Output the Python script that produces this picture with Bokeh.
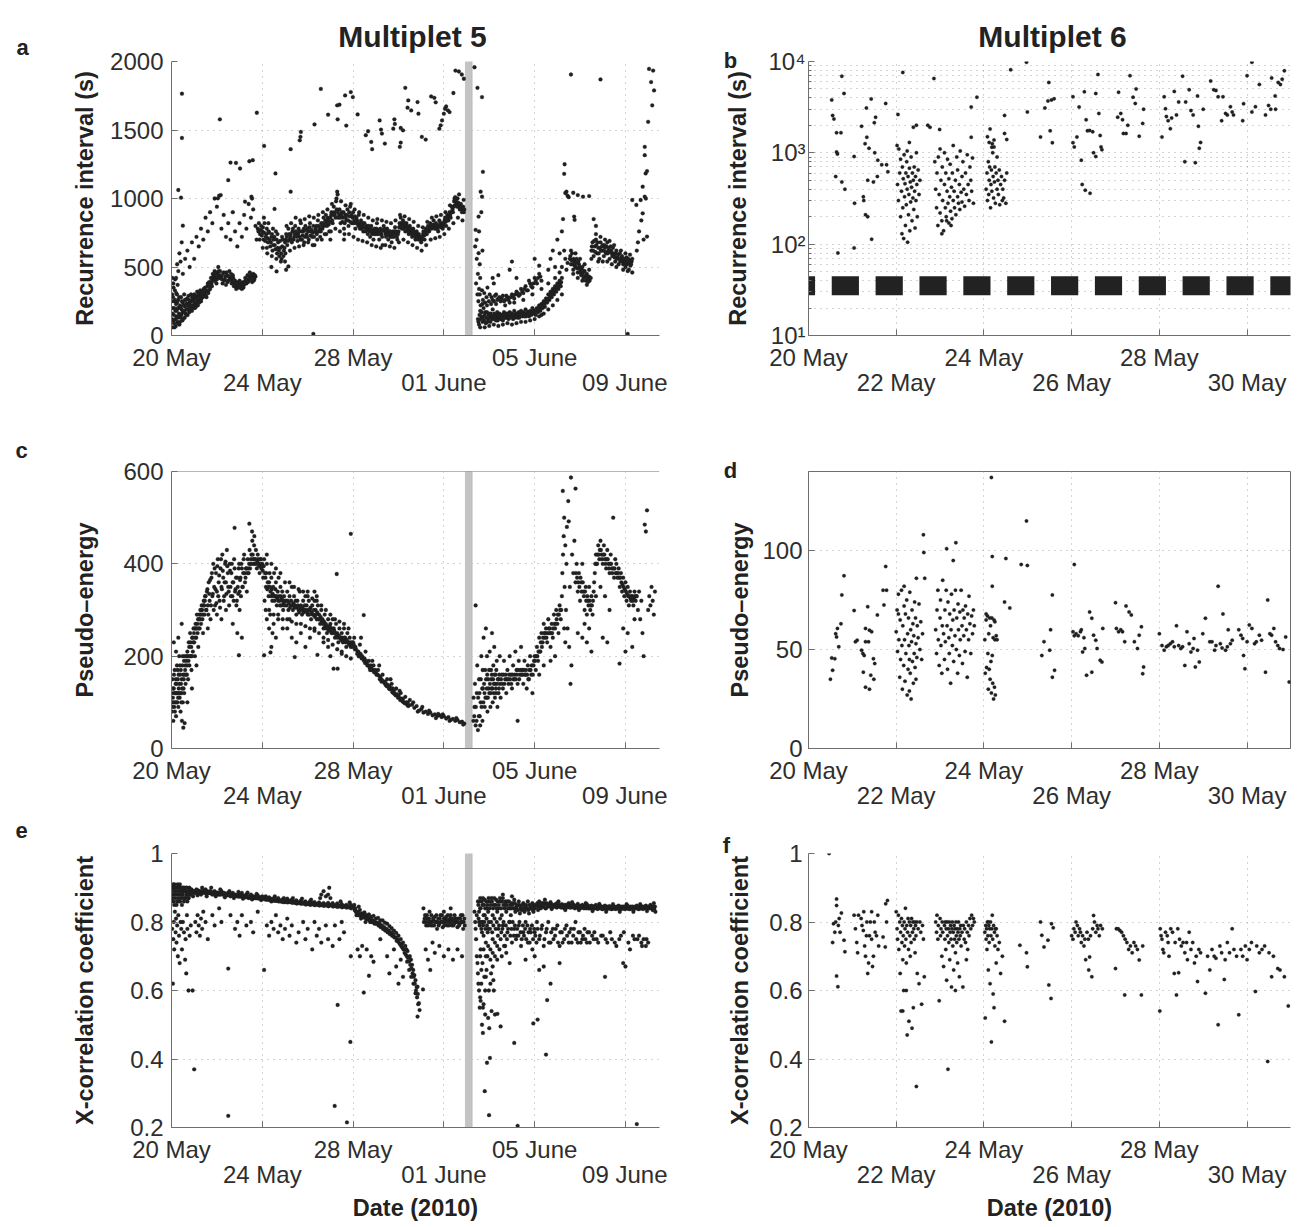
from bokeh.plotting import figure
from bokeh.models import FixedTicker, LinearAxis, BoxAnnotation, Span, Range1d, GridBox
from bokeh.core.properties import value
from bokeh.embed import file_html
from bokeh.resources import INLINE

# ---------------- data: x = days after 20 May 2010 00:00 ----------------
m5_ticks = [0, 4, 8, 12, 16, 20]
m5_tick_labels = ["20 May", "24 May", "28 May", "01 June", "05 June", "09 June"]
m6_ticks = [0, 2, 4, 6, 8, 10]
m6_tick_labels = ["20 May", "22 May", "24 May", "26 May", "28 May", "30 May"]
m5_gap = [12.95, 13.25]

# Multiplet 5 - recurrence interval (s)
a_low = [(0.02,120),(0.03,300),(0.05,60),(0.06,200),(0.08,380),(0.1,150),(0.11,90),(0.13,250),(0.15,330),(0.17,180),(0.19,70),(0.2,230),(0.22,140),(0.24,300),(0.26,100),(0.28,200),(0.3,260),(0.33,160),(0.35,80),(0.37,220),(0.4,130),(0.42,280),(0.45,190),(0.48,110),(0.5,240),(0.53,170),(0.56,300),(0.58,130),(0.6,210),(0.63,260),(0.66,150),(0.7,230),(0.72,190),(0.75,290),(0.78,170),(0.8,240),(0.83,200),(0.86,300),(0.9,180),(0.93,260),(0.96,220),(1.0,300),(1.03,200),(1.06,270),(1.1,240),(1.13,320),(1.16,220),(1.2,290),(1.24,260),(1.27,330),(1.3,250),(1.34,300),(1.38,280),(1.42,340),(1.46,300),(1.5,320),(1.54,280),(1.58,360),(1.62,310),(1.66,390),(1.7,340),(1.74,420),(1.78,360),(1.82,450),(1.86,400),(1.9,470),(1.94,420),(1.98,380),(2.02,450),(2.06,500),(2.1,420),(2.14,470),(0.04,420),(0.09,350),(0.16,410),(0.27,370),
(2.2,430),(2.25,380),(2.3,460),(2.35,410),(2.4,370),(2.45,440),(2.5,400),(2.55,470),(2.6,420),(2.65,380),(2.7,440),(2.75,360),(2.8,400),(2.85,340),(2.9,380),(2.95,350),(3.0,400),(3.05,360),(3.1,340),(3.15,390),(3.2,370),(3.25,420),(3.3,380),(3.35,440),(3.4,400),(3.45,460),(3.5,420),(3.55,390),(3.6,450),(3.65,410),(3.7,430)]
a_low_fill = [(0.01,250),(0.04,160),(0.07,280),(0.09,110),(0.12,200),(0.14,60),(0.16,260),(0.18,120),(0.21,310),(0.23,180),(0.25,240),(0.27,130),(0.29,90),(0.31,200),(0.34,280),(0.36,150),(0.38,100),(0.41,210),(0.44,150),(0.46,250),(0.49,170),(0.51,120),(0.54,220),(0.57,180),(0.59,260),(0.62,160),(0.65,230),(0.67,190),(0.69,270),(0.71,150),(0.74,220),(0.77,260),(0.79,200),(0.82,180),(0.85,250),(0.88,220),(0.91,280),(0.94,200),(0.98,250),(1.01,230),(1.04,290),(1.08,210),(1.11,280),(1.15,260),(1.18,300),(1.22,240),(1.25,310),(1.29,280),(1.32,270),(1.36,320),(1.4,290),(1.44,310),(1.48,350),(1.52,290),(1.56,330),(1.6,380),(1.64,330),(1.68,360),(1.72,390),(1.76,380),(1.8,410),(1.84,430),(1.88,440),(1.92,400),(1.96,460),(2.0,410),(2.04,430),(2.08,470),(2.12,440),(2.16,420),
(2.22,410),(2.27,450),(2.32,400),(2.37,430),(2.42,460),(2.47,390),(2.52,430),(2.57,410),(2.62,450),(2.67,400),(2.72,420),(2.77,380),(2.82,360),(2.87,390),(2.92,360),(2.97,380),(3.02,350),(3.07,380),(3.12,360),(3.17,350),(3.22,390),(3.27,400),(3.32,410),(3.37,390),(3.42,430),(3.47,410),(3.52,440),(3.57,430),(3.62,400),(3.67,440)]
a_double = [(0.2,420),(0.25,520),(0.3,470),(0.35,600),(0.4,540),(0.45,680),(0.5,450),(0.6,560),(0.7,620),(0.8,500),(0.9,680),(1.0,560),(1.1,720),(1.2,650),(1.3,780),(1.4,700),(1.5,860),(1.6,760),(1.7,900),(1.8,820),(1.9,1000),(2.0,940),(2.1,1020),(2.2,780),(2.3,880),(2.4,720),(2.5,820),(2.6,700),(2.7,900),(2.8,760),(2.9,650),(3.0,820),(3.1,720),(3.2,880),(3.3,780),(3.4,960),(3.5,860),(3.55,1000),(3.6,920),(3.7,800),(3.75,700),
(2.6,1262),(2.84,1260),(3.02,1219),(3.43,1272),(3.58,1280),(2.5,1134),(2.04,1001),(2.17,1025),(3.24,977),(3.52,1013),(5.25,1050),(4.54,924),(5.15,504),(4.63,468)]
a_mid = [(3.8,780),(3.85,820),(3.9,740),(3.95,800),(4.0,760),(4.05,700),(4.1,820),(4.15,720),(4.2,780),(4.25,680),(4.3,750),(4.35,650),(4.4,720),(4.45,620),(4.5,700),(4.55,660),(4.6,760),(4.65,600),(4.7,680),(4.75,580),(4.8,640),(4.85,560),(4.9,700),(4.95,620),(5.0,680),(5.05,740),(5.1,660),(5.15,780),(5.2,700),(5.25,740),(5.3,680),(5.35,780),(5.4,720),(5.45,800),(5.5,740),(4.4,500),(5.0,540),(5.05,480),(4.2,640),
(5.55,690),(5.6,780),(5.65,720),(5.7,820),(5.75,700),(5.8,760),(5.85,680),(5.9,800),(5.95,740),(6.0,780),(6.05,700),(6.1,820),(6.15,760),(6.2,720),(6.25,800),(6.3,660),(6.35,780),(6.4,740),(6.45,840),(6.5,760),(6.55,720),(6.6,820),(6.65,780),(6.7,860),(6.75,740),(6.8,880),(6.85,800),(6.9,840),(6.95,760),
(7.0,860),(7.05,900),(7.1,820),(7.15,940),(7.2,880),(7.25,980),(7.3,1050),(7.35,860),(7.4,920),(7.45,820),(7.5,900),(7.55,860),(7.6,780),(7.65,880),(7.7,840),(7.75,920),(7.8,800),(7.85,870),(7.9,960),(7.95,820),(8.0,900),(8.05,840),(8.1,780),(8.15,860),(8.2,820),(8.25,880),(8.3,780),(8.35,840),(8.4,800),(8.45,760),(7.32,1030),(7.0,700),(7.6,700),
(8.5,820),(8.55,760),(8.6,800),(8.65,740),(8.7,780),(8.75,720),(8.8,800),(8.85,760),(8.9,700),(8.95,780),(9.0,740),(9.05,820),(9.1,760),(9.15,700),(9.2,780),(9.25,740),(9.3,660),(9.35,800),(9.4,760),(9.45,720),(9.5,780),(9.55,700),(9.6,760),(9.65,720),(9.7,680),(9.75,760),(9.8,720),(9.85,790),(9.9,740),(9.95,700),
(10.0,760),(10.05,820),(10.1,860),(10.15,780),(10.2,840),(10.25,800),(10.3,760),(10.35,820),(10.4,780),(10.45,740),(10.5,800),(10.55,760),(10.6,720),(10.65,780),(10.7,740),(10.75,700),(10.8,760),(10.85,720),(10.9,740),(10.95,700),(11.0,680),(11.05,720),(11.1,760),(11.15,700),(11.2,780),(11.25,740),(11.3,800),(11.35,760),(11.4,820),(11.45,780),(11.5,800),(11.55,840),(11.6,780),(11.65,820),(11.7,800),(11.75,760),(11.8,840),(11.85,800),(11.9,820),(11.95,780),
(12.0,820),(12.05,860),(12.1,800),(12.15,880),(12.2,840),(12.25,900),(12.3,860),(12.35,940),(12.4,900),(12.45,980),(12.5,1010),(12.55,960),(12.6,1000),(12.65,940),(12.7,920),(12.75,960),(12.8,900),(12.85,940),(12.9,920)]
a_mid_fill = [(3.83,760),(3.88,700),(3.93,770),(3.98,730),(4.03,790),(4.08,750),(4.13,690),(4.18,740),(4.23,710),(4.28,760),(4.33,700),(4.38,680),(4.43,740),(4.48,660),(4.53,720),(4.58,630),(4.63,700),(4.68,640),(4.73,620),(4.78,690),(4.83,600),(4.88,650),(4.93,580),(4.98,640),(5.03,700),(5.08,720),(5.13,690),(5.18,740),(5.23,720),(5.28,700),(5.33,760),(5.38,700),(5.43,740),(5.48,760),(5.53,720),
(5.58,740),(5.63,760),(5.68,700),(5.73,760),(5.78,730),(5.83,780),(5.88,720),(5.93,770),(5.98,720),(6.03,760),(6.08,790),(6.13,730),(6.18,770),(6.23,750),(6.28,720),(6.33,760),(6.38,800),(6.43,760),(6.48,800),(6.53,780),(6.58,760),(6.63,800),(6.68,820),(6.73,800),(6.78,840),(6.83,820),(6.88,860),(6.93,810),(6.98,830),
(7.03,880),(7.08,840),(7.13,880),(7.18,900),(7.23,860),(7.28,920),(7.33,900),(7.38,880),(7.43,860),(7.48,880),(7.53,830),(7.58,900),(7.63,820),(7.68,860),(7.73,880),(7.78,840),(7.83,900),(7.88,830),(7.93,880),(7.98,860),(8.03,820),(8.08,870),(8.13,820),(8.18,840),(8.23,800),(8.28,820),(8.33,800),(8.38,780),(8.43,820),(8.48,790),
(8.53,790),(8.58,780),(8.63,770),(8.68,800),(8.73,760),(8.78,780),(8.83,740),(8.88,770),(8.93,740),(8.98,760),(9.03,780),(9.08,740),(9.13,770),(9.18,740),(9.23,760),(9.28,720),(9.33,770),(9.38,780),(9.43,740),(9.48,760),(9.53,740),(9.58,730),(9.63,760),(9.68,740),(9.73,720),(9.78,740),(9.83,760),(9.88,760),(9.93,720),(9.98,740),
(10.03,790),(10.08,800),(10.13,820),(10.18,810),(10.23,780),(10.28,820),(10.33,790),(10.38,800),(10.43,760),(10.48,770),(10.53,780),(10.58,740),(10.63,750),(10.68,760),(10.73,720),(10.78,740),(10.83,740),(10.88,700),(10.93,720),(10.98,720),(11.03,700),(11.08,740),(11.13,730),(11.18,740),(11.23,760),(11.28,770),(11.33,780),(11.38,790),(11.43,800),(11.48,790),(11.53,810),(11.58,800),(11.63,800),(11.68,780),(11.73,780),(11.78,800),(11.83,820),(11.88,790),(11.93,800),(11.98,800),
(12.03,840),(12.08,830),(12.13,840),(12.18,860),(12.23,870),(12.28,880),(12.33,900),(12.38,920),(12.43,940),(12.48,950),(12.53,980),(12.58,940),(12.63,970),(12.68,960),(12.73,940),(12.78,930),(12.83,920),(12.88,900)]
a_mid_spread = [(4.02,640),(4.07,860),(4.22,600),(4.27,820),(4.42,580),(4.47,780),(4.62,560),(4.67,740),(4.82,540),(4.87,720),(5.02,600),(5.07,800),(5.22,620),(5.27,820),(5.42,640),(5.47,860),(5.62,650),(5.67,840),(5.82,660),(5.87,850),(6.02,680),(6.07,870),(6.22,660),(6.27,860),(6.42,700),(6.47,880),(6.62,700),(6.67,900),(6.82,740),(6.87,920),(7.02,760),(7.07,960),(7.22,780),(7.27,1000),(7.42,760),(7.47,980),(7.62,740),(7.67,950),(7.82,740),(7.87,940),(8.02,720),(8.07,920),(8.22,700),(8.27,900),(8.42,690),(8.47,880),(8.62,680),(8.67,860),(8.82,660),(8.87,840),(9.02,650),(9.07,850),(9.22,640),(9.27,840),(9.42,660),(9.47,830),(9.62,650),(9.67,820),(9.82,640),(9.87,840),(10.02,680),(10.07,880),(10.22,700),(10.27,870),(10.42,680),(10.47,850),(10.62,660),(10.67,830),(10.82,640),(10.87,800),(11.02,620),(11.07,790),(11.22,660),(11.27,830),(11.42,700),(11.47,860),(11.62,710),(11.67,870),(11.82,720),(11.87,880),(12.02,740),(12.07,900),(12.22,780),(12.27,950),(12.42,820),(12.47,1000),(12.62,860),(12.67,1030),(12.82,840),(12.87,990)]
a_high = [(0.46,1765),(0.46,1442),(0.3,1062),(0.42,1006),(0.5,802),(2.13,1578),(3.76,1626),(4.08,1384),(4.58,1183),(5.25,1360),(5.65,1425),(5.68,1450),(5.7,1486),(6.3,1541),(6.58,1800),(6.9,1612),(7.3,1680),(7.4,1685),(7.32,1578),(7.7,1532),(7.65,1752),(7.9,1777),(7.99,1740),(8.2,1614),(8.56,1462),(8.66,1491),(8.8,1413),(8.84,1360),(9.17,1570),(9.23,1503),(9.27,1474),(9.4,1401),(9.82,1578),(9.84,1544),(9.77,1510),(10.06,1377),(10.1,1408),(10.3,1808),(10.43,1716),(10.4,1663),(10.1,1515),(10.2,1498),(10.56,1643),(10.84,1704),(10.88,1619),(11.03,1450),(11.2,1430),(11.44,1745),(11.58,1735),(11.64,1702),(11.8,1510),(11.86,1534),(11.92,1570),(12.0,1619),(12.05,1655),(12.1,1672),(12.18,1643),(12.25,1631),(12.42,1770),(12.51,1934),(12.66,1927),(12.79,1905),(12.88,1874),(6.25,12),(20.1,12)]
a_after = [(13.35,1958),(13.48,1808),(13.68,1740),(13.72,1195),(13.62,1050),(13.68,1013),(13.53,868),(13.4,771),(13.44,698),(13.53,601),(13.58,520),(13.45,560),(13.5,450),(13.42,380),(13.55,340),(13.48,300),(13.6,420),(13.38,650),(13.65,900),(13.55,760),(13.7,620),
(13.5,120),(13.55,80),(13.6,180),(13.65,140),(13.7,100),(13.75,200),(13.8,150),(13.85,90),(13.9,170),(13.95,120),(14.0,160),(14.05,100),(14.1,140),(14.15,190),(14.2,120),(14.25,150),(14.3,110),(14.35,170),(14.4,130),(14.45,160),(14.5,120),(14.55,150),(14.6,110),(14.65,170),(14.7,130),(14.75,160),(14.8,140),(14.85,120),(14.9,170),(14.95,140),(15.0,160),(15.05,120),(15.1,180),(15.15,140),(15.2,160),(15.25,130),(15.3,170),(15.35,140),(15.4,180),(15.45,150),(15.5,170),(15.55,140),(15.6,190),(15.65,150),(15.7,170),(15.75,140),(15.8,180),(15.85,150),(15.9,200),(15.95,160),(16.0,180),(16.05,150),(16.1,200),(16.15,170),(16.2,220),(16.25,180),(16.3,230),(16.35,200),(16.4,250),(16.45,210),(16.5,270),(16.55,240),(16.6,300),(16.65,260),(16.7,320),(16.75,280),(16.8,340),(16.85,300),(16.9,360),(16.95,320),(17.0,380),(17.05,340),(17.1,400),(17.15,360),(17.2,420),
(13.52,250),(13.58,300),(13.62,220),(13.68,330),(13.72,260),(13.78,310),(13.82,240),(13.88,280),(13.92,350),(13.98,250),(14.02,300),(14.08,230),
(14.1,280),(14.2,250),(14.3,300),(14.4,270),(14.5,250),(14.6,290),(14.7,260),(14.8,280),(14.9,240),(15.0,300),(15.1,270),(15.2,320),(15.3,290),(15.4,340),(15.5,310),(15.6,360),(15.7,330),(15.8,380),(15.9,350),(16.0,420),(16.1,380),(16.2,450),(16.3,400),(14.15,420),(14.4,440),(14.2,380),(15.0,540),(15.2,420),(16.0,560),(16.2,510),(14.9,480),(15.75,400),(16.3,150),
(16.6,480),(16.7,560),(16.8,620),(16.9,500),(17.0,700),(17.1,600),(17.2,760),(17.25,850),(17.3,1180),(17.32,1250),(17.35,1040),(17.4,1050),(17.45,1020),(17.5,1010),(17.2,500),(17.3,620),(17.35,560),(17.4,480),(17.45,530),
(17.55,560),(17.6,520),(17.65,600),(17.7,480),(17.75,540),(17.8,500),(17.85,560),(17.9,460),(17.95,520),(18.0,480),(18.05,440),(18.1,500),(18.15,420),(18.2,470),(18.25,400),(18.3,450),(18.35,390),(18.4,430),(17.7,1042),(17.9,1025),(18.13,1013),(18.4,1018),(17.74,868),(17.76,844),(17.6,1905),(18.9,1869),
(18.5,620),(18.55,680),(18.6,580),(18.65,650),(18.7,700),(18.75,600),(18.8,640),(18.85,560),(18.9,680),(18.95,620),(19.0,660),(19.05,580),(19.1,640),(19.15,600),(19.2,680),(19.25,620),(19.3,560),(19.35,650),(19.4,600),(19.45,640),(18.6,850),(18.7,800),
(19.5,590),(19.55,540),(19.6,620),(19.65,570),(19.7,520),(19.75,600),(19.8,550),(19.85,580),(19.9,520),(19.95,560),(20.0,500),(20.05,570),(20.1,530),(20.15,480),(20.2,550),(20.25,520),(20.3,560),
(20.3,989),(20.48,953),(20.5,620),(20.55,680),(20.6,760),(20.67,989),(20.7,840),(20.76,892),(20.76,1086),(20.8,700),(20.85,1013),(20.85,1316),(20.85,1377),(20.89,1183),(20.95,722),(21.04,1946),(21.13,1850),(21.18,1680),(21.22,1934),(21.26,1789),(20.9,1000),(20.95,1200),(21.0,1560)]
a_after_fill = [(13.52,100),(13.57,150),(13.62,120),(13.67,170),(13.72,130),(13.77,110),(13.82,170),(13.87,130),(13.92,100),(13.97,150),(14.02,130),(14.07,160),(14.12,120),(14.17,140),(14.22,160),(14.27,130),(14.32,150),(14.37,110),(14.42,150),(14.47,130),(14.52,140),(14.57,120),(14.62,150),(14.67,130),(14.72,150),(14.77,130),(14.82,160),(14.87,140),(14.92,130),(14.97,160),(15.02,140),(15.07,150),(15.12,130),(15.17,160),(15.22,140),(15.27,150),(15.32,130),(15.37,160),(15.42,150),(15.47,140),(15.52,160),(15.57,150),(15.62,140),(15.67,170),(15.72,150),(15.77,170),(15.82,160),(15.87,170),(15.92,170),(15.97,180),(16.02,170),(16.07,190),(16.12,180),(16.17,200),(16.22,190),(16.27,210),(16.32,210),(16.37,230),(16.42,230),(16.47,240),(16.52,250),(16.57,260),(16.62,270),(16.67,290),(16.72,300),(16.77,310),(16.82,320),(16.87,330),(16.92,340),(16.97,350),(17.02,360),(17.07,370),(17.12,380),(17.17,390),
(14.15,260),(14.25,290),(14.35,260),(14.45,280),(14.55,270),(14.65,250),(14.75,290),(14.85,260),(14.95,280),(15.05,290),(15.15,300),(15.25,310),(15.35,300),(15.45,320),(15.55,340),(15.65,330),(15.85,360),(15.95,380),(16.05,400),(16.15,420),(16.25,430),
(17.57,580),(17.62,550),(17.67,520),(17.72,560),(17.77,510),(17.82,530),(17.87,490),(17.92,540),(17.97,500),(18.02,460),(18.07,480),(18.12,450),(18.17,470),(18.22,430),(18.27,440),(18.32,420),(18.37,410),(18.42,400),(18.47,420),
(18.52,650),(18.57,620),(18.62,690),(18.67,610),(18.72,660),(18.77,680),(18.82,600),(18.87,640),(18.92,620),(18.97,650),(19.02,620),(19.07,660),(19.12,610),(19.17,650),(19.22,600),(19.27,640),(19.32,610),(19.37,620),(19.42,580),(19.47,600),
(19.52,570),(19.57,600),(19.62,560),(19.67,590),(19.72,560),(19.77,540),(19.82,570),(19.87,540),(19.92,560),(19.97,530),(20.02,550),(20.07,520),(20.12,560),(20.17,530),(20.22,510),(20.27,540)]
a_after_spread = [(13.6,60),(13.8,60),(14.0,70),(14.2,80),(14.4,70),(14.6,80),(14.8,90),(15.0,80),(15.2,90),(15.4,100),(15.6,100),(15.8,110),(16.0,120),(16.2,140),(16.4,160),(16.6,190),(16.8,220),(17.0,260),(17.2,300),(13.7,230),(13.9,220),(14.3,230),(14.7,220),(15.1,240),(15.5,260),(15.9,300),(16.3,340),(16.6,380),(16.9,420),(17.1,460),
(17.6,620),(17.8,600),(18.0,560),(18.2,520),(18.4,480),(17.7,450),(17.9,420),(18.1,400),(18.3,370),(18.5,560),(18.7,740),(18.9,720),(19.1,700),(19.3,690),(19.5,660),(18.8,540),(19.0,540),(19.2,540),(19.4,520),(19.6,500),(19.8,620),(20.0,600),(20.2,590),(19.9,480),(20.1,470),(20.3,460)]

# Multiplet 5 - pseudo-energy
c_rise = [(0.02,80),(0.04,150),(0.06,110),(0.08,60),(0.1,130),(0.12,90),(0.14,170),(0.16,100),(0.18,140),(0.2,70),(0.22,120),(0.24,180),(0.26,100),(0.28,150),(0.3,90),(0.32,130),(0.34,200),(0.36,110),(0.38,160),(0.4,80),(0.42,140),(0.44,120),(0.46,60),(0.48,180),(0.5,100),(0.52,45),(0.54,150),(0.56,120),(0.58,55),(0.6,170),(0.1,230),(0.3,240),(0.45,270),(0.2,210),
(0.62,140),(0.65,190),(0.68,160),(0.7,210),(0.73,150),(0.76,230),(0.79,180),(0.82,250),(0.85,200),(0.88,170),(0.91,240),(0.94,210),(0.97,260),(1.0,230),(1.03,200),(1.06,270),(1.09,240),(1.12,290),(1.15,250),(1.18,220),(1.21,280),(1.24,260),(1.27,300),(1.3,270),(1.33,310),(1.36,280),(1.39,250),(1.42,320),(1.45,290),(1.48,330),(0.7,100),(0.9,130),(1.1,180),
(1.52,300),(1.56,340),(1.6,310),(1.64,360),(1.68,320),(1.72,280),(1.76,370),(1.8,330),(1.84,400),(1.88,350),(1.92,310),(1.96,380),(2.0,340),(2.04,410),(2.08,360),(2.12,320),(2.16,390),(2.2,350),(2.24,420),(2.28,370),(2.32,330),(2.36,400),(2.4,360),(2.44,430),(2.48,380),(1.6,260),(2.0,290),(2.2,280),(2.4,300),
(2.52,340),(2.56,400),(2.6,350),(2.64,380),(2.68,330),(2.72,360),(2.76,410),(2.8,340),(2.84,370),(2.88,320),(2.92,350),(2.96,390),(3.0,340),(3.04,370),(3.08,400),(3.12,350),(3.16,380),(3.2,420),(3.24,360),(3.28,390),(3.32,340),(3.36,410),(3.4,380),(3.44,430),(3.48,400),(2.7,270),(2.9,250),(3.1,240),(3.0,300),(2.78,478),(3.43,487),(2.97,202),
(3.52,420),(3.56,450),(3.6,410),(3.64,440),(3.68,400),(3.72,430),(3.76,390),(3.8,420),(3.84,400),(3.88,380),(3.92,410),(3.96,390),(4.0,400),(4.04,370),(4.08,410),(3.55,470),(3.65,460)]
c_decay = [(4.12,380),(4.16,350),(4.2,400),(4.24,360),(4.28,330),(4.32,380),(4.36,340),(4.4,370),(4.44,320),(4.48,350),(4.52,380),(4.56,330),(4.6,360),(4.64,310),(4.68,340),(4.72,370),(4.76,320),(4.8,350),(4.84,310),(4.88,340),(4.92,300),(4.96,330),(5.0,320),(4.1,320),(4.15,300),(4.2,280),(4.3,260),(4.35,290),(4.45,250),(4.5,270),(4.6,240),(4.08,202),(4.36,208),(4.4,220),(4.7,280),(4.9,260),
(5.05,320),(5.1,340),(5.15,300),(5.2,330),(5.25,310),(5.3,350),(5.35,300),(5.4,330),(5.45,310),(5.5,290),(5.55,320),(5.6,300),(5.65,340),(5.7,310),(5.75,290),(5.8,320),(5.85,300),(5.9,330),(5.95,310),(6.0,290),(6.05,320),(6.1,300),(6.15,280),(6.2,310),(6.25,290),(6.3,320),(6.35,300),(6.4,280),(6.45,310),(5.1,260),(5.3,240),(5.43,198),(5.5,230),(5.7,250),(5.9,220),(6.1,240),(6.3,260),(6.43,203),(5.2,280),(6.0,340),(6.3,340),(6.4,330),
(6.5,290),(6.55,270),(6.6,300),(6.65,280),(6.7,260),(6.75,290),(6.8,270),(6.85,250),(6.9,280),(6.95,260),(7.0,270),(7.05,250),(7.1,280),(7.15,260),(7.2,240),(7.25,270),(7.3,250),(7.35,230),(7.4,260),(7.45,240),(7.5,250),(7.55,230),(7.6,260),(7.65,240),(7.7,220),(7.75,250),(7.8,230),(7.85,240),(7.9,220),(7.95,230),(7.14,173),(7.32,173),(7.28,378),(7.9,465),(6.9,220),(7.0,200),(7.5,210),(6.7,230),
(8.0,230),(8.1,220),(8.2,210),(8.3,225),(8.4,200),(8.47,289),(8.5,195),(8.6,185),(8.7,190),(8.8,175),(8.9,180),(9.0,165),(9.1,170),(9.2,155),(9.3,160),(9.4,145),(9.5,150),(9.6,135),(9.7,140),(9.8,125),(9.9,130),(10.0,115),(10.1,120),(10.2,108),(10.3,112),(10.4,100),(10.5,105),(8.05,240),(8.25,200),(8.55,210),(8.85,190),(9.15,180),(9.45,140),(9.75,130),(10.05,125),(10.35,98),(8.35,240),(8.75,170),(9.25,145),(9.65,150),
(10.6,95),(10.7,88),(10.8,92),(10.9,82),(11.0,85),(11.1,78),(11.2,80),(11.3,75),(11.4,78),(11.5,72),(11.6,74),(11.7,70),(11.8,72),(11.9,68),(12.0,70),(12.1,65),(12.2,68),(12.3,62),(12.4,64),(12.5,60),(12.6,62),(12.7,57),(12.8,58),(12.9,54),(10.65,100),(10.85,80),(11.05,90),(11.35,82),(11.65,66),(11.95,74),(12.25,60),(12.55,66),(12.85,52),(11.75,75)]
c_decay_spread = [(4.2,420),(4.4,400),(4.6,390),(4.8,380),(5.0,360),(5.2,360),(5.4,350),(5.6,345),(5.8,340),(6.0,330),(6.2,325),(6.4,320),(6.6,310),(6.8,300),(7.0,290),(7.2,280),(7.4,275),(7.6,270),(7.8,260),(4.3,300),(4.5,290),(4.7,290),(4.9,280),(5.1,280),(5.3,275),(5.5,270),(5.7,270),(5.9,265),(6.1,260),(6.3,255),(6.5,250),(6.7,240),(6.9,235),(7.1,225),(7.3,215),(7.5,205),(7.7,200),(7.9,195)]
c_after = [(13.3,60),(13.35,90),(13.4,310),(13.4,50),(13.45,120),(13.5,40),(13.55,150),(13.58,70),(13.62,100),(13.65,200),(13.7,60),(13.72,130),(13.75,240),(13.8,90),(13.82,170),(13.85,260),(13.88,110),(13.9,200),(13.92,80),(13.95,150),(14.0,120),(14.02,210),(14.05,90),(14.08,170),(14.1,130),(14.12,250),(14.15,100),(14.18,180),(14.2,140),(14.22,220),(14.25,110),(14.28,160),(14.3,120),(14.33,190),(14.36,90),(14.4,150),(14.43,130),(14.46,200),(14.5,110),
(14.55,160),(14.6,130),(14.65,190),(14.7,150),(14.75,120),(14.8,170),(14.85,140),(14.9,200),(14.95,160),(15.0,130),(15.05,180),(15.1,150),(15.15,210),(15.2,170),(15.25,60),(15.25,140),(15.3,190),(15.35,160),(15.4,220),(15.45,170),(15.5,140),(15.55,190),(15.6,160),(15.65,130),(15.7,180),(15.75,150),(15.8,200),(15.85,160),(15.9,120),(15.95,180),
(16.0,200),(16.05,170),(16.1,220),(16.15,190),(16.2,240),(16.25,210),(16.3,250),(16.35,230),(16.4,270),(16.45,240),(16.5,260),(16.55,230),(16.6,280),(16.65,250),(16.7,220),(16.75,270),(16.8,240),(16.85,290),(16.9,260),(16.95,300),(17.0,270),(17.05,250),(17.1,310),(17.15,280),(16.2,160),(16.4,180),(16.7,190),(16.9,200),
(17.2,330),(17.22,380),(17.25,420),(17.24,558),(17.28,460),(17.3,500),(17.32,350),(17.35,440),(17.38,300),(17.4,400),(17.42,480),(17.45,260),(17.48,536),(17.5,492),(17.52,220),(17.55,350),(17.58,140),(17.6,587),(17.62,180),(17.65,420),(17.7,380),(17.75,450),(17.8,563),(17.3,260),(17.35,230),
(17.8,360),(17.85,400),(17.9,340),(17.95,380),(18.0,320),(18.05,360),(18.1,400),(18.15,340),(18.2,300),(18.25,350),(18.3,290),(18.35,320),(18.4,350),(18.45,300),(18.5,330),(18.55,290),(18.6,340),(17.9,250),(18.1,240),(18.3,230),(18.5,210),(18.2,270),(18.4,260),
(18.65,380),(18.7,420),(18.75,400),(18.8,440),(18.85,410),(18.9,450),(18.95,420),(19.0,400),(19.05,440),(19.1,410),(19.15,390),(19.2,430),(19.25,400),(19.3,380),(19.35,420),(19.4,390),(19.46,500),(19.5,370),(19.55,410),(18.7,330),(18.9,350),(19.1,330),(19.3,300),(19.0,240),(19.2,230),
(19.6,400),(19.65,370),(19.7,390),(19.75,350),(19.8,380),(19.85,340),(19.9,370),(19.95,330),(20.0,360),(20.05,320),(20.1,350),(20.15,310),(20.2,340),(20.25,320),(20.3,330),(20.35,310),(20.4,340),(20.45,320),(19.74,184),(19.9,260),(20.1,250),(20.3,220),(20.0,210),(20.4,280),
(20.5,330),(20.55,300),(20.6,340),(20.65,280),(20.7,320),(20.75,250),(20.8,200),(20.85,485),(20.9,470),(20.95,516),(21.0,300),(21.05,330),(21.1,310),(21.15,350),(21.2,320),(21.25,290),(21.3,340)]
c_fill = [(0.01,120),(0.03,100),(0.05,90),(0.07,130),(0.09,100),(0.11,160),(0.13,120),(0.15,80),(0.17,120),(0.19,150),(0.21,100),(0.23,140),(0.25,120),(0.27,170),(0.29,110),(0.31,160),(0.33,120),(0.35,140),(0.37,180),(0.39,120),(0.41,170),(0.43,100),(0.45,150),(0.47,130),(0.49,200),(0.51,160),(0.53,130),(0.55,190),(0.57,160),(0.59,200),
(0.61,180),(0.64,160),(0.67,200),(0.69,180),(0.72,200),(0.75,190),(0.78,220),(0.81,200),(0.84,230),(0.87,220),(0.9,200),(0.93,240),(0.96,230),(0.99,250),(1.02,260),(1.05,240),(1.08,260),(1.11,260),(1.14,270),(1.17,280),(1.2,260),(1.23,290),(1.26,280),(1.29,290),(1.32,300),(1.35,300),(1.38,290),(1.41,310),(1.44,310),(1.47,320),(1.5,330),
(1.54,300),(1.58,345),(1.62,290),(1.66,335),(1.7,365),(1.74,310),(1.78,380),(1.82,335),(1.86,300),(1.9,390),(1.94,345),(1.98,315),(2.02,395),(2.06,330),(2.1,375),(2.14,305),(2.18,410),(2.22,345),(2.26,385),(2.3,320),(2.34,360),(2.38,405),(2.42,335),(2.46,395),(2.5,350),(2.54,310),(2.58,385),(2.62,330),(2.66,400),(2.7,360),(2.74,320),(2.78,390),(2.82,345),(2.86,310),(2.9,370),(2.94,335),(2.98,400),(3.02,365),(3.06,330),(3.1,390),(3.14,350),(3.18,410),
(3.22,380),(3.26,370),(3.3,390),(3.34,380),(3.38,390),(3.42,400),(3.46,390),(3.5,410),(3.54,400),(3.58,420),(3.62,400),(3.66,410),(3.7,410),(3.74,400),(3.78,405),(3.82,410),(3.86,395),(3.9,400),(3.94,410),(3.98,395),(4.02,385),(4.06,395),
(4.14,370),(4.18,380),(4.22,345),(4.26,350),(4.3,360),(4.34,350),(4.38,330),(4.42,345),(4.46,335),(4.5,330),(4.54,320),(4.58,345),(4.62,330),(4.66,325),(4.7,320),(4.74,330),(4.78,310),(4.82,330),(4.86,325),(4.9,320),(4.94,315),(4.98,310),
(5.07,310),(5.12,320),(5.17,315),(5.22,305),(5.27,320),(5.32,310),(5.37,315),(5.42,305),(5.47,320),(5.52,305),(5.57,310),(5.62,295),(5.67,305),(5.72,300),(5.77,305),(5.82,295),(5.87,310),(5.92,300),(5.97,295),(6.02,300),(6.07,290),(6.12,305),(6.17,295),(6.22,290),(6.27,300),(6.32,285),(6.37,290),(6.42,295),(6.47,280),
(6.52,280),(6.57,285),(6.62,275),(6.67,270),(6.72,275),(6.77,265),(6.82,260),(6.87,265),(6.92,255),(6.97,265),(7.02,255),(7.07,260),(7.12,250),(7.17,255),(7.22,250),(7.27,245),(7.32,240),(7.37,245),(7.42,240),(7.47,235),(7.52,240),(7.57,235),(7.62,240),(7.67,230),(7.72,235),(7.77,230),(7.82,225),(7.87,230),(7.92,225),(7.97,220),
(8.03,225),(8.08,215),(8.13,215),(8.18,205),(8.23,210),(8.28,200),(8.33,205),(8.38,195),(8.43,195),(8.48,190),(8.53,185),(8.58,190),(8.63,180),(8.68,180),(8.73,175),(8.78,180),(8.83,170),(8.88,170),(8.93,165),(8.98,170),(9.03,160),(9.08,160),(9.13,158),(9.18,150),(9.23,150),(9.28,148),(9.33,145),(9.38,142),(9.43,138),(9.48,135),(9.53,138),(9.58,130),(9.63,128),(9.68,130),(9.73,122),(9.78,120),(9.83,118),(9.88,115),(9.93,118),(9.98,110),(10.03,110),(10.08,105),(10.13,108),(10.18,102),(10.23,100),(10.28,98),(10.33,100),(10.38,95),(10.43,92),(10.48,94),
(13.31,110),(13.34,70),(13.37,140),(13.41,90),(13.44,60),(13.47,180),(13.51,110),(13.54,70),(13.57,120),(13.6,50),(13.63,150),(13.66,90),(13.69,130),(13.71,170),(13.74,100),(13.77,140),(13.79,120),(13.83,110),(13.86,150),(13.89,130),(13.91,160),(13.94,110),(13.97,130),(13.99,170),(14.03,140),(14.06,120),(14.09,150),(14.11,160),(14.14,130),(14.17,150),(14.19,120),(14.23,160),(14.26,140),(14.29,130),(14.31,170),(14.34,140),(14.38,150),(14.41,120),(14.44,160),(14.47,140),(14.52,150),(14.57,140),(14.62,160),(14.67,140),(14.72,160),(14.77,150),(14.82,150),(14.87,160),(14.92,150),(14.97,140),(15.02,160),(15.07,150),(15.12,160),(15.17,150),(15.22,160),(15.27,170),(15.32,150),(15.37,170),(15.42,160),(15.47,160),(15.52,170),(15.57,160),(15.62,170),(15.67,160),(15.72,150),(15.77,170),(15.82,170),(15.87,180),(15.92,160),(15.97,190),
(16.02,190),(16.07,200),(16.12,200),(16.17,210),(16.22,210),(16.27,230),(16.32,220),(16.37,240),(16.42,250),(16.47,250),(16.52,240),(16.57,250),(16.62,260),(16.67,260),(16.72,250),(16.77,250),(16.82,260),(16.87,270),(16.92,270),(16.97,280),(17.02,290),(17.07,290),(17.12,300),(17.17,300),
(17.82,380),(17.87,370),(17.92,360),(17.97,350),(18.02,370),(18.07,340),(18.12,360),(18.17,330),(18.22,340),(18.27,320),(18.32,330),(18.37,310),(18.42,320),(18.47,310),(18.52,310),(18.57,320),(18.62,360),(18.67,400),(18.72,400),(18.77,420),(18.82,420),(18.87,430),(18.92,430),(18.97,410),(19.02,420),(19.07,420),(19.12,400),(19.17,410),(19.22,410),(19.27,390),(19.32,400),(19.37,400),(19.42,380),(19.47,390),(19.52,390),(19.57,380),(19.62,380),(19.67,380),(19.72,370),(19.77,370),(19.82,360),(19.87,355),(19.92,350),(19.97,345),(20.02,340),(20.07,335),(20.12,330),(20.17,330),(20.22,325),(20.27,330),(20.32,320),(20.37,325),(20.42,330),(20.47,330)]

# Multiplet 5 - cross-correlation coefficient
e_before = [(0.02,0.88),(0.05,0.9),(0.08,0.86),(0.1,0.89),(0.13,0.91),(0.16,0.87),(0.19,0.9),(0.22,0.85),(0.25,0.88),(0.28,0.9),(0.31,0.86),(0.34,0.89),(0.37,0.91),(0.4,0.87),(0.43,0.89),(0.46,0.85),(0.49,0.88),(0.52,0.9),(0.55,0.86),(0.58,0.89),(0.61,0.87),(0.64,0.9),(0.67,0.88),(0.7,0.86),(0.73,0.89),(0.76,0.87),(0.79,0.9),(0.82,0.88),
(0.03,0.78),(0.06,0.62),(0.08,0.75),(0.1,0.8),(0.12,0.72),(0.15,0.83),(0.18,0.77),(0.2,0.81),(0.22,0.74),(0.25,0.79),(0.28,0.7),(0.3,0.82),(0.33,0.76),(0.36,0.68),(0.4,0.8),(0.43,0.78),(0.46,0.72),(0.5,0.8),(0.55,0.77),(0.6,0.69),(0.62,0.75),(0.65,0.65),(0.68,0.82),(0.7,0.78),(0.75,0.6),(0.8,0.76),(0.85,0.79),(0.93,0.6),
(0.9,0.89),(1.0,0.885),(1.1,0.895),(1.2,0.89),(1.3,0.88),(1.4,0.89),(1.5,0.895),(1.6,0.885),(1.7,0.89),(1.8,0.88),(1.9,0.89),(2.0,0.885),(2.1,0.88),(2.2,0.89),(2.3,0.885),(2.4,0.88),(2.5,0.885),(2.6,0.875),(2.7,0.885),(2.8,0.88),(2.9,0.875),(3.0,0.88),(3.1,0.885),(3.2,0.875),(3.3,0.88),(3.4,0.87),(3.5,0.88),(3.6,0.875),(3.7,0.87),(3.8,0.878),(3.9,0.87),(4.0,0.875),
(0.95,0.875),(1.15,0.878),(1.35,0.9),(1.55,0.875),(1.75,0.9),(1.95,0.875),(2.15,0.895),(2.35,0.872),(2.55,0.89),(2.75,0.87),(2.95,0.888),(3.15,0.868),(3.35,0.886),(3.55,0.866),(3.75,0.882),(3.95,0.864),
(1.0,0.37),(1.05,0.8),(1.1,0.77),(1.15,0.82),(1.2,0.79),(1.25,0.76),(1.3,0.81),(1.35,0.78),(1.4,0.83),(1.5,0.8),(1.6,0.75),(1.8,0.82),(1.9,0.79),(2.1,0.84),(2.2,0.8),(2.5,0.234),(2.5,0.664),(2.6,0.82),(2.8,0.78),(2.9,0.8),(3.0,0.76),(3.1,0.82),(3.3,0.79),(3.5,0.8),(3.6,0.77),(3.8,0.83),(4.08,0.66),
(4.1,0.87),(4.2,0.865),(4.3,0.872),(4.4,0.86),(4.5,0.868),(4.6,0.862),(4.7,0.87),(4.8,0.86),(4.9,0.866),(5.0,0.858),(5.1,0.868),(5.2,0.86),(5.3,0.865),(5.4,0.857),(5.5,0.863),(5.6,0.856),(5.7,0.862),(5.8,0.855),(5.9,0.86),(6.0,0.853),(6.1,0.86),(6.2,0.855),(6.3,0.858),(6.4,0.852),(6.5,0.857),(6.6,0.85),(6.7,0.855),(6.8,0.85),(6.9,0.856),(7.0,0.85),(7.1,0.855),(7.2,0.848),(7.3,0.854),(7.4,0.848),(7.5,0.852),(7.6,0.846),(7.7,0.85),(7.8,0.845),(7.9,0.85),(8.0,0.845),
(4.15,0.875),(4.55,0.875),(4.95,0.87),(5.35,0.87),(5.75,0.868),(6.15,0.865),(6.55,0.87),(6.6,0.88),(6.7,0.89),(6.8,0.875),(6.9,0.88),(7.0,0.87),(6.95,0.9),(7.45,0.86),(7.85,0.857),
(4.2,0.79),(4.3,0.76),(4.4,0.8),(4.5,0.78),(4.6,0.82),(4.7,0.77),(4.8,0.79),(4.9,0.75),(5.0,0.78),(5.1,0.81),(5.2,0.76),(5.3,0.79),(5.5,0.74),(5.6,0.77),(5.8,0.8),(5.9,0.75),(6.0,0.78),(6.2,0.72),(6.3,0.8),(6.4,0.76),(6.5,0.78),(6.6,0.74),(6.8,0.79),(6.9,0.75),(7.1,0.73),(7.2,0.79),(7.19,0.263),(7.32,0.558),(7.4,0.75),(7.5,0.8),(7.6,0.77),(7.73,0.215),(7.88,0.45),(7.9,0.7)]
e_drop = [(8.1,0.84),(8.2,0.83),(8.3,0.835),(8.4,0.825),(8.5,0.828),(8.6,0.82),(8.7,0.822),(8.8,0.815),(8.9,0.818),(9.0,0.81),(9.1,0.812),(9.2,0.805),(9.3,0.805),(9.4,0.798),(9.5,0.795),(9.6,0.788),(9.7,0.782),(9.8,0.775),(9.9,0.768),(10.0,0.76),(10.1,0.75),(10.2,0.74),(10.3,0.73),(10.4,0.715),(10.5,0.7),(10.55,0.69),(10.6,0.675),(10.65,0.66),(10.7,0.645),(10.75,0.63),(10.8,0.61),(10.85,0.59),
(8.15,0.82),(8.35,0.81),(8.55,0.8),(8.75,0.8),(8.95,0.795),(9.15,0.79),(9.35,0.78),(9.55,0.775),(9.75,0.765),(9.95,0.75),(10.15,0.735),(10.35,0.72),(8.05,0.85),(8.25,0.845),
(8.2,0.72),(8.3,0.7),(8.4,0.73),(8.47,0.594),(8.6,0.72),(8.7,0.643),(8.8,0.7),(8.9,0.684),(9.2,0.75),(9.5,0.7),(9.6,0.65),(9.8,0.72),(9.9,0.67),(10.0,0.62),(10.1,0.69),(10.2,0.64),(10.38,0.684),(10.47,0.66),(10.56,0.64),(10.66,0.62),(10.75,0.592),(10.84,0.524),(10.84,0.611),(10.9,0.563),(10.93,0.543),(11.08,0.603),(11.4,0.66),
(11.1,0.84),(11.15,0.81),(11.2,0.8),(11.25,0.82),(11.3,0.79),(11.35,0.81),(11.4,0.8),(11.45,0.82),(11.5,0.79),(11.55,0.805),(11.6,0.815),(11.65,0.8),(11.7,0.78),(11.75,0.81),(11.8,0.795),(11.85,0.82),(11.9,0.8),(11.95,0.785),(12.0,0.81),(12.05,0.8),(12.1,0.815),(12.15,0.79),(12.2,0.805),(12.25,0.8),(12.3,0.82),(12.35,0.79),(12.4,0.805),(12.45,0.795),(12.5,0.81),(12.55,0.8),(12.6,0.785),(12.65,0.81),(12.7,0.795),(12.75,0.82),(12.8,0.8),(12.85,0.78),(12.9,0.81),
(11.2,0.72),(11.3,0.69),(11.5,0.74),(11.6,0.71),(11.8,0.73),(12.0,0.7),(12.2,0.72),(12.4,0.69),(12.6,0.72),(12.8,0.7),(12.3,0.84),(12.0,0.83)]
e_after = [(13.35,0.83),(13.38,0.8),(13.4,0.78),(13.42,0.75),(13.45,0.7),(13.48,0.68),(13.5,0.65),(13.52,0.62),(13.55,0.6),(13.58,0.55),(13.6,0.58),(13.62,0.72),(13.65,0.66),(13.68,0.5),(13.72,0.476),(13.75,0.56),(13.8,0.306),(13.82,0.6),(13.85,0.64),(13.9,0.389),(13.92,0.7),(13.95,0.52),(13.99,0.236),(14.0,0.49),(14.03,0.403),(14.05,0.62),(14.1,0.54),(14.15,0.67),(14.2,0.6),(14.25,0.53),(14.36,0.532),(14.5,0.495),(13.45,0.82),(13.55,0.8),(13.65,0.78),(13.75,0.76),(13.85,0.74),(13.95,0.78),(14.05,0.72),(14.15,0.75),(14.25,0.7),(14.35,0.73),(13.6,0.84),(13.7,0.8),(13.8,0.82),(13.9,0.79),
(13.5,0.86),(13.6,0.87),(13.7,0.85),(13.8,0.865),(13.9,0.84),(14.0,0.86),(14.1,0.87),(14.2,0.85),(14.3,0.865),(14.4,0.84),(14.5,0.86),(14.6,0.87),(14.7,0.85),(14.8,0.86),(14.9,0.84),(15.0,0.855),(15.1,0.865),(15.2,0.845),(15.3,0.86),(15.4,0.84),(15.5,0.855),(15.6,0.845),(15.7,0.86),(15.8,0.84),(15.9,0.855),(16.0,0.845),(13.55,0.83),(13.75,0.82),(13.95,0.83),(14.15,0.82),(14.35,0.83),(14.55,0.82),(14.75,0.83),(14.95,0.82),(15.15,0.83),(15.35,0.825),(15.55,0.83),(15.75,0.825),(15.95,0.83),(14.6,0.88),(15.0,0.875),
(14.4,0.78),(14.5,0.75),(14.6,0.79),(14.7,0.73),(14.8,0.77),(14.9,0.8),(15.0,0.74),(15.1,0.78),(15.1,0.447),(15.2,0.76),(15.25,0.205),(15.3,0.79),(15.4,0.73),(15.5,0.77),(15.6,0.8),(15.7,0.74),(15.8,0.78),(15.9,0.72),(15.94,0.504),(16.0,0.77),(16.1,0.8),(16.13,0.515),(16.2,0.75),(16.3,0.78),(16.4,0.73),(16.5,0.413),(16.5,0.77),(16.55,0.572),(16.6,0.8),(16.7,0.74),(16.8,0.78),(16.9,0.76),(17.0,0.79),(17.1,0.73),(17.2,0.77),(17.3,0.75),(17.4,0.79),(17.5,0.74),(17.6,0.78),(17.7,0.76),(17.8,0.8),(17.9,0.74),(18.0,0.77),(18.1,0.75),(18.2,0.78),(18.3,0.74),(18.4,0.77),(18.6,0.75),(18.8,0.74),(19.0,0.76),(19.1,0.64),(19.2,0.74),(19.4,0.75),(19.6,0.73),(19.8,0.76),(19.9,0.68),(20.0,0.67),(20.2,0.72),(20.4,0.75),(20.5,0.21),(20.6,0.76),(20.7,0.74),(20.8,0.75),(20.9,0.73),(21.0,0.74),(16.2,0.66),(16.7,0.62),(17.1,0.68),(16.0,0.7),(15.6,0.69),(14.9,0.68),(16.4,0.67),
(16.1,0.85),(16.2,0.86),(16.3,0.845),(16.4,0.855),(16.5,0.84),(16.6,0.852),(16.7,0.858),(16.8,0.845),(16.9,0.85),(17.0,0.856),(17.1,0.845),(17.2,0.852),(17.3,0.84),(17.4,0.85),(17.5,0.855),(17.6,0.843),(17.7,0.85),(17.8,0.845),(17.9,0.853),(18.0,0.84),(18.1,0.85),(18.2,0.845),(18.3,0.852),(18.4,0.84),(18.5,0.848),(18.6,0.842),(18.7,0.85),(18.8,0.84),(18.9,0.847),(19.0,0.838),(19.1,0.848),(19.2,0.84),(19.3,0.846),(19.4,0.838),(19.5,0.845),(19.6,0.84),(19.7,0.848),(19.8,0.838),(19.9,0.845),(20.0,0.84),(20.1,0.847),(20.2,0.838),(20.3,0.845),(20.4,0.84),(20.5,0.848),(20.6,0.838),(20.7,0.846),(20.8,0.84),(20.9,0.848),(21.0,0.842),(21.1,0.85),(21.2,0.835),(21.3,0.845),
(16.15,0.835),(16.45,0.865),(16.75,0.838),(17.05,0.86),(17.35,0.835),(17.65,0.858),(17.95,0.835),(18.25,0.855),(18.55,0.832),(18.85,0.853),(19.15,0.83),(19.45,0.852),(19.75,0.83),(20.05,0.852),(20.35,0.83),(20.65,0.852),(20.95,0.832),(21.25,0.855)]
e_fill = [(0.01,0.9),(0.04,0.87),(0.07,0.91),(0.09,0.88),(0.12,0.85),(0.14,0.9),(0.17,0.88),(0.21,0.89),(0.24,0.86),(0.27,0.91),(0.29,0.87),(0.32,0.9),(0.35,0.88),(0.38,0.86),(0.41,0.9),(0.44,0.88),(0.47,0.9),(0.5,0.87),(0.53,0.89),(0.56,0.9),(0.59,0.87),(0.62,0.89),(0.65,0.88),(0.68,0.9),(0.71,0.88),(0.74,0.87),(0.77,0.89),(0.8,0.88),
(0.85,0.89),(0.88,0.895),(0.92,0.885),(0.97,0.89),(1.02,0.89),(1.07,0.885),(1.12,0.888),(1.17,0.892),(1.22,0.885),(1.27,0.89),(1.32,0.885),(1.37,0.89),(1.42,0.885),(1.47,0.89),(1.52,0.883),(1.57,0.89),(1.62,0.886),(1.67,0.884),(1.72,0.888),(1.77,0.883),(1.82,0.887),(1.87,0.882),(1.92,0.886),(1.97,0.882),(2.02,0.886),(2.07,0.881),(2.12,0.885),(2.17,0.88),(2.22,0.884),(2.27,0.88),(2.32,0.884),(2.37,0.879),(2.42,0.883),(2.47,0.878),(2.52,0.882),(2.57,0.878),(2.62,0.881),(2.67,0.877),(2.72,0.88),(2.77,0.876),(2.82,0.879),(2.87,0.876),(2.92,0.879),(2.97,0.874),(3.02,0.878),(3.07,0.874),(3.12,0.877),(3.17,0.873),(3.22,0.877),(3.27,0.872),(3.32,0.876),(3.37,0.872),(3.42,0.875),(3.47,0.871),(3.52,0.875),(3.57,0.87),(3.62,0.874),(3.67,0.87),(3.72,0.873),(3.77,0.869),(3.82,0.873),(3.87,0.868),(3.92,0.872),(3.97,0.868),
(4.05,0.868),(4.12,0.866),(4.17,0.87),(4.25,0.866),(4.32,0.864),(4.37,0.868),(4.45,0.864),(4.52,0.862),(4.57,0.866),(4.65,0.862),(4.72,0.86),(4.77,0.864),(4.85,0.86),(4.92,0.858),(4.97,0.862),(5.05,0.86),(5.12,0.857),(5.17,0.862),(5.25,0.858),(5.32,0.856),(5.37,0.86),(5.45,0.856),(5.52,0.854),(5.57,0.858),(5.65,0.855),(5.72,0.853),(5.77,0.857),(5.85,0.853),(5.92,0.851),(5.97,0.855),(6.05,0.852),(6.12,0.85),(6.17,0.854),(6.25,0.851),(6.32,0.849),(6.37,0.853),(6.45,0.85),(6.52,0.848),(6.57,0.852),(6.65,0.849),(6.72,0.847),(6.77,0.851),(6.85,0.848),(6.92,0.846),(6.97,0.85),(7.05,0.848),(7.12,0.845),(7.17,0.849),(7.25,0.846),(7.32,0.844),(7.37,0.848),(7.45,0.845),(7.52,0.843),(7.57,0.847),(7.65,0.844),(7.72,0.842),(7.77,0.846),(7.85,0.842),(7.92,0.84),(7.97,0.844),
(8.07,0.835),(8.12,0.83),(8.17,0.828),(8.22,0.82),(8.27,0.825),(8.32,0.818),(8.37,0.822),(8.42,0.815),(8.47,0.82),(8.52,0.812),(8.57,0.815),(8.62,0.808),(8.67,0.812),(8.72,0.805),(8.77,0.81),(8.82,0.8),(8.87,0.805),(8.92,0.798),(8.97,0.8),(9.02,0.795),(9.07,0.798),(9.12,0.79),(9.17,0.795),(9.22,0.785),(9.27,0.79),(9.32,0.78),(9.37,0.785),(9.42,0.775),(9.47,0.78),(9.52,0.77),(9.57,0.775),(9.62,0.765),(9.67,0.77),(9.72,0.76),(9.77,0.76),(9.82,0.755),(9.87,0.755),(9.92,0.745),(9.97,0.745),(10.02,0.74),(10.07,0.735),(10.12,0.73),(10.17,0.725),(10.22,0.72),(10.27,0.71),(10.32,0.705),(10.37,0.7),(10.42,0.695),(10.47,0.685),(10.52,0.675),(10.57,0.665),(10.62,0.65),(10.67,0.64),(10.72,0.62),(10.77,0.6),(10.82,0.58),(10.87,0.56),
(11.12,0.8),(11.17,0.82),(11.22,0.79),(11.27,0.81),(11.32,0.8),(11.37,0.83),(11.42,0.79),(11.47,0.8),(11.52,0.81),(11.57,0.79),(11.62,0.8),(11.67,0.82),(11.72,0.8),(11.77,0.79),(11.82,0.81),(11.87,0.8),(11.92,0.82),(11.97,0.8),(12.02,0.79),(12.07,0.81),(12.12,0.8),(12.17,0.82),(12.22,0.79),(12.27,0.81),(12.32,0.8),(12.37,0.81),(12.42,0.79),(12.47,0.82),(12.52,0.8),(12.57,0.81),(12.62,0.8),(12.67,0.79),(12.72,0.81),(12.77,0.8),(12.82,0.82),(12.87,0.8),(12.92,0.79),
(13.52,0.85),(13.57,0.86),(13.62,0.84),(13.67,0.86),(13.72,0.87),(13.77,0.85),(13.82,0.84),(13.87,0.86),(13.92,0.85),(13.97,0.87),(14.02,0.84),(14.07,0.85),(14.12,0.86),(14.17,0.84),(14.22,0.87),(14.27,0.85),(14.32,0.84),(14.37,0.86),(14.42,0.85),(14.47,0.87),(14.52,0.84),(14.57,0.86),(14.62,0.85),(14.67,0.84),(14.72,0.86),(14.77,0.85),(14.82,0.84),(14.87,0.86),(14.92,0.85),(14.97,0.84),(15.02,0.85),(15.07,0.84),(15.12,0.855),(15.17,0.84),(15.22,0.85),(15.27,0.835),(15.32,0.85),(15.37,0.845),(15.42,0.835),(15.47,0.85),(15.52,0.84),(15.57,0.835),(15.62,0.85),(15.67,0.84),(15.72,0.835),(15.77,0.85),(15.82,0.84),(15.87,0.845),(15.92,0.835),(15.97,0.85),(16.02,0.84),(16.07,0.85),
(13.53,0.81),(13.58,0.79),(13.63,0.8),(13.68,0.77),(13.73,0.79),(13.78,0.8),(13.83,0.78),(13.88,0.81),(13.93,0.77),(13.98,0.8),(14.03,0.78),(14.08,0.8),(14.13,0.77),(14.18,0.79),(14.23,0.81),(14.28,0.78),(14.33,0.8),(14.38,0.76),(14.43,0.79),(14.48,0.81),(14.53,0.77),(14.58,0.78),(14.63,0.8),(14.68,0.76),(14.73,0.79),(14.78,0.75),(14.83,0.78),(14.88,0.8),(14.93,0.76),(14.98,0.78),(15.03,0.8),(15.08,0.76),(15.13,0.79),(15.18,0.75),(15.23,0.78),(15.28,0.76),(15.33,0.8),(15.38,0.77),(15.43,0.75),(15.48,0.79),(15.53,0.76),(15.58,0.78),(15.63,0.75),(15.68,0.79),(15.73,0.77),(15.78,0.74),(15.83,0.77),(15.88,0.79),(15.93,0.75),(15.98,0.78),(16.03,0.76),(16.08,0.74),(16.13,0.78),(16.23,0.76),(16.33,0.79),(16.43,0.75),(16.53,0.78),(16.63,0.74),(16.73,0.77),(16.83,0.75),(16.93,0.78),(17.03,0.74),(17.13,0.77),(17.23,0.74),(17.33,0.78),(17.43,0.76),(17.53,0.77),(17.63,0.74),(17.73,0.78),(17.83,0.75),(17.93,0.77),(18.03,0.74),(18.13,0.76),(18.23,0.75),(18.33,0.77),(18.43,0.74),(18.53,0.76),(18.63,0.77),(18.73,0.75),(18.93,0.76),(19.13,0.75),(19.33,0.77),(19.53,0.74),(19.73,0.75),(19.93,0.77),(20.13,0.74),(20.33,0.76),(20.53,0.75),(20.73,0.73),(20.93,0.75),
(13.6,0.7),(13.7,0.68),(13.75,0.72),(13.85,0.7),(13.95,0.73),(14.05,0.69),(14.15,0.71),(14.25,0.74),(14.35,0.69),(14.45,0.72),(14.55,0.7),(14.65,0.73),(14.75,0.71),(13.65,0.62),(13.78,0.64),(13.88,0.66),(13.98,0.6),(14.08,0.65),(14.18,0.63),(13.62,0.57),(13.72,0.55),(13.82,0.53),
(16.12,0.855),(16.17,0.845),(16.22,0.85),(16.27,0.84),(16.32,0.855),(16.37,0.845),(16.42,0.85),(16.47,0.84),(16.52,0.855),(16.57,0.845),(16.62,0.85),(16.67,0.845),(16.72,0.852),(16.77,0.842),(16.82,0.85),(16.87,0.845),(16.92,0.852),(16.97,0.842),(17.02,0.85),(17.07,0.845),(17.12,0.85),(17.17,0.842),(17.22,0.848),(17.27,0.845),(17.32,0.85),(17.37,0.842),(17.42,0.848),(17.47,0.843),(17.52,0.85),(17.57,0.842),(17.62,0.848),(17.67,0.843),(17.72,0.85),(17.77,0.84),(17.82,0.847),(17.87,0.842),(17.92,0.848),(17.97,0.84),(18.02,0.847),(18.07,0.842),(18.12,0.846),(18.17,0.84),(18.22,0.847),(18.27,0.84),(18.32,0.846),(18.37,0.84),(18.42,0.846),(18.47,0.84),(18.52,0.845),(18.57,0.838),(18.62,0.846),(18.67,0.84),(18.72,0.845),(18.77,0.838),(18.82,0.845),(18.87,0.84),(18.92,0.844),(18.97,0.838),(19.02,0.845),(19.07,0.839),(19.12,0.844),(19.17,0.838),(19.22,0.845),(19.27,0.839),(19.32,0.844),(19.37,0.838),(19.42,0.845),(19.47,0.839),(19.52,0.844),(19.57,0.838),(19.62,0.845),(19.67,0.839),(19.72,0.844),(19.77,0.838),(19.82,0.845),(19.87,0.839),(19.92,0.844),(19.97,0.838),(20.02,0.845),(20.07,0.839),(20.12,0.844),(20.17,0.838),(20.22,0.845),(20.27,0.839),(20.32,0.844),(20.37,0.838),(20.42,0.845),(20.47,0.84),(20.52,0.844),(20.57,0.838),(20.62,0.845),(20.67,0.84),(20.72,0.844),(20.77,0.838),(20.82,0.845),(20.87,0.84),(20.92,0.844),(20.97,0.84),(21.02,0.845),(21.07,0.84),(21.12,0.845),(21.17,0.84),(21.22,0.845),(21.27,0.838),(21.32,0.83)]

# Multiplet 6 - recurrence interval (s)
b_sparse = [(0.53,3800),(0.55,2570),(0.58,2350),(0.76,6900),(0.64,1660),(0.74,1660),(0.64,1020),(0.66,970),(0.62,550),(0.76,480),(0.83,400),(0.67,80),(0.81,4470),
(1.04,910),(1.05,280),(1.04,91),(1.21,1950),(1.32,3100),(1.33,1480),(1.29,1260),(1.38,1120),(1.25,330),(1.3,210),(1.35,200),(1.44,113),(1.43,3890),(1.5,2140),(1.53,2450),(1.48,480),(1.35,500),(1.26,300),(1.57,550),(1.51,1000),(1.58,830),(1.67,740),(1.76,3470),(1.78,740),(1.81,620),
(2.04,2630),(2.15,7600),(2.39,1900),(2.46,2000),(2.72,2000),(2.77,1900),(2.86,6500),(2.99,1800),(3.71,1480),(3.71,3170),(3.84,4070)]
b_swarm1 = [(2.02,1200),(2.03,450),(2.05,300),(2.06,1100),(2.08,600),(2.1,200),(2.1,850),(2.12,380),(2.13,130),(2.14,700),(2.15,250),(2.16,520),(2.17,115),(2.18,950),(2.19,330),(2.2,460),(2.21,160),(2.22,600),(2.23,270),(2.24,800),(2.25,400),(2.26,105),(2.27,550),(2.28,210),(2.29,350),(2.3,680),(2.31,140),(2.32,480),(2.33,290),(2.34,900),(2.35,420),(2.36,180),(2.37,600),(2.38,320),(2.39,500),(2.4,240),(2.41,700),(2.42,380),(2.43,150),(2.44,550),(2.45,300),(2.46,1000),(2.47,450),(2.48,200),(2.5,650),(2.52,350),(2.54,500),(2.3,1300),(2.25,1050)]
b_swarm2 = [(2.88,800),(2.9,400),(2.92,250),(2.93,600),(2.95,160),(2.96,900),(2.98,350),(3.0,220),(3.0,1100),(3.02,500),(3.04,180),(3.05,700),(3.06,300),(3.08,140),(3.1,450),(3.1,1000),(3.12,250),(3.13,600),(3.14,200),(3.16,380),(3.17,850),(3.18,280),(3.2,170),(3.2,520),(3.22,330),(3.23,750),(3.24,230),(3.26,420),(3.27,190),(3.28,600),(3.3,300),(3.3,1200),(3.32,380),(3.33,250),(3.35,500),(3.36,210),(3.38,900),(3.4,330),(3.4,650),(3.42,280),(3.44,450),(3.45,240),(3.46,1050),(3.48,370),(3.5,550),(3.5,290),(3.52,800),(3.54,400),(3.56,260),(3.58,600),(3.6,350),(3.62,950),(3.64,450),(3.66,300),(3.68,700),(3.7,500),(3.72,380),(3.74,880),(3.76,280),(3.04,130),(3.15,180),(3.25,160)]
b_swarm3 = [(4.05,400),(4.07,600),(4.08,300),(4.1,800),(4.11,350),(4.12,500),(4.13,700),(4.15,250),(4.16,450),(4.17,650),(4.18,380),(4.2,1000),(4.21,550),(4.22,320),(4.24,480),(4.25,700),(4.26,280),(4.28,600),(4.3,400),(4.32,500),(4.33,350),(4.35,650),(4.36,270),(4.38,450),(4.4,550),(4.42,300),(4.43,400),(4.45,320),(4.47,500),(4.5,280),(4.52,600),(4.12,1300),(4.18,1150),(4.3,900),(4.08,1500)]
b_late = [(4.14,1820),(4.23,1380),(4.19,1260),(4.23,1160),(4.47,2570),(4.47,1630),(4.52,1400),(4.61,8100),(4.97,9800),(4.99,2800),(5.29,1490),(5.39,3100),(5.46,3700),(5.54,3800),(5.48,5900),(5.51,1740),(5.56,1290),(5.6,3900),
(6.03,4100),(6.03,1290),(6.06,1160),(6.12,1490),(6.17,3170),(6.22,830),(6.24,450),(6.31,390),(6.42,360),(6.29,4650),(6.33,2300),(6.36,1740),(6.41,1760),(6.48,1700),(6.5,1000),(6.55,910),(6.6,7200),(6.62,2700),(6.65,1550),(6.67,1160),(6.69,1080),(6.55,4460),
(7.07,4600),(7.05,2460),(7.12,2700),(7.16,2300),(7.18,1630),(7.24,1630),(7.28,2000),(7.33,7000),(7.4,4070),(7.45,3470),(7.47,5000),(7.54,1520),(7.62,2100),(7.64,3000),
(8.06,1490),(8.11,4100),(8.14,3040),(8.16,2500),(8.2,2250),(8.25,1840),(8.28,2400),(8.34,4700),(8.39,2600),(8.44,3600),(8.53,6900),(8.58,800),(8.6,3600),(8.68,4900),(8.72,2900),(8.77,2600),(8.82,780),(8.87,4200),(8.89,1950),(8.91,1120),(8.94,1300),(9.0,3000),
(9.17,6100),(9.24,4900),(9.29,4800),(9.34,4100),(9.42,2250),(9.45,4100),(9.51,2700),(9.55,2600),(9.62,3200),(9.66,2800),(9.69,2600),(9.9,2250),(9.92,3450),(10.0,7000),(10.11,9800),(10.11,2800),(10.19,3200),(10.28,5600),(10.42,2600),(10.49,3300),(10.56,6600),(10.64,4200),(10.71,5900),(10.76,5600),(10.8,6400),(10.85,7900),(10.54,3000),(10.65,3000)]
# daily marker bars drawn at 35 s (start / end day of each bar)
b_bar_start = [-0.47, 0.53, 1.53, 2.53, 3.53, 4.53, 5.53, 6.53, 7.53, 8.53, 9.53, 10.53]
b_bar_end = [0.15, 1.15, 2.15, 3.15, 4.15, 5.15, 6.15, 7.15, 8.15, 9.15, 10.15, 11.15]
b_bar_level = 35

# Multiplet 6 - pseudo-energy
d_sparse = [(0.53,45.8),(0.6,45.4),(0.5,35),(0.55,39.5),(0.62,58),(0.66,60.7),(0.74,63),(0.76,77.6),(0.81,87.3),(0.64,56.4),(0.69,51.4),
(1.04,69.7),(1.07,53.9),(1.11,54.7),(1.21,49.7),(1.24,48),(1.27,47),(1.3,54),(1.25,38.6),(1.3,31),(1.39,30),(1.35,71.7),(1.39,59.8),(1.44,59),(1.48,45.4),(1.51,42.9),(1.42,37),(1.49,35),(1.57,67.5),(1.3,60.7),(1.37,53.9),
(1.76,92),(1.7,80),(1.78,80),(1.72,72.5)]
d_swarm1 = [(2.0,59),(2.02,70),(2.03,49),(2.05,78),(2.06,55),(2.08,36),(2.09,65),(2.1,45),(2.12,80),(2.13,52),(2.14,30),(2.15,62),(2.17,42),(2.18,72),(2.19,55),(2.2,34),(2.21,68),(2.22,48),(2.24,75),(2.25,27),(2.26,58),(2.27,40),(2.28,66),(2.29,52),(2.3,45),(2.31,79),(2.32,38),(2.33,60),(2.34,25),(2.35,54),(2.36,70),(2.37,44),(2.38,63),(2.39,33),(2.4,57),(2.41,48),(2.42,74),(2.43,41),(2.44,66),(2.45,53),(2.46,86),(2.47,46),(2.48,62),(2.5,56),(2.52,73),(2.54,50),(2.56,64),(2.58,45),(2.6,58),(2.62,108),(2.63,99),(2.65,86),(2.3,29),(2.05,68),(2.18,82),(2.45,35)]
d_swarm2 = [(2.9,60),(2.92,48),(2.93,70),(2.95,80),(2.96,55),(2.98,42),(3.0,66),(3.01,75),(3.02,52),(3.04,38),(3.05,62),(3.06,85),(3.08,58),(3.1,45),(3.11,70),(3.12,54),(3.14,80),(3.15,101),(3.16,62),(3.17,40),(3.18,74),(3.2,56),(3.21,48),(3.22,68),(3.24,33),(3.25,60),(3.26,78),(3.28,52),(3.29,65),(3.3,95),(3.31,44),(3.32,70),(3.34,57),(3.35,80),(3.36,104),(3.37,50),(3.38,66),(3.4,38),(3.41,73),(3.42,60),(3.44,47),(3.45,69),(3.46,55),(3.48,80),(3.5,62),(3.51,43),(3.52,70),(3.54,57),(3.55,66),(3.57,49),(3.58,72),(3.6,60),(3.62,36),(3.63,68),(3.65,55),(3.66,77),(3.68,63),(3.7,48),(3.72,67),(3.74,58),(3.76,70),(3.78,62)]
d_swarm3 = [(4.02,55),(4.03,38),(4.05,65),(4.06,41),(4.08,67),(4.09,48),(4.1,30),(4.11,58),(4.12,40),(4.13,66),(4.14,35),(4.15,62),(4.16,44),(4.17,28),(4.18,66),(4.19,47),(4.2,33),(4.21,56),(4.22,25),(4.23,65),(4.24,31),(4.25,55),(4.26,27),(4.28,57),(4.3,55),(4.17,137),(4.19,97),(4.19,82),(4.5,96),(4.47,74),(4.59,71),(4.05,68),(4.25,64)]
d_late = [(4.97,115),(4.85,93),(4.99,92.5),(5.32,47),(5.37,54),(5.52,60),(5.5,49.7),(5.56,77.6),(5.61,39.5),(5.56,36),
(6.06,93),(6.03,59),(6.06,57),(6.1,58),(6.15,57),(6.2,59),(6.25,48.8),(6.34,37),(6.3,50.5),(6.41,69),(6.46,65.8),(6.5,57.3),(6.55,54.7),(6.58,50.5),(6.65,44.6),(6.69,43.7),(6.71,60.7),(6.46,38.6),(6.22,60),(6.28,56),
(7.0,73.7),(7.02,60.7),(7.07,59),(7.12,60),(7.16,59),(7.21,54),(7.24,72),(7.31,69),(7.36,67.5),(7.43,54),(7.5,50.5),(7.54,57.3),(7.59,61.5),(7.62,37.8),(7.64,41.2),
(8.0,58),(8.06,52),(8.11,49.7),(8.16,51.4),(8.2,52),(8.25,53),(8.3,53.9),(8.34,51.4),(8.39,62),(8.44,52),(8.49,50.5),(8.53,51.4),(8.58,42),(8.63,59),(8.68,53),(8.72,48.8),(8.77,50.5),(8.79,55.6),(8.82,41.2),(8.87,49.7),(8.91,43.7),(8.99,58),(9.05,65.8),
(9.15,53.9),(9.2,53.9),(9.26,49.7),(9.29,52),(9.34,82),(9.39,53),(9.43,50.8),(9.45,68),(9.51,49.7),(9.55,51.4),(9.57,60),(9.62,53),(9.66,54.7),(9.81,60),(9.86,57.3),(9.9,55.6),(9.92,47),(9.95,40.3),(10.0,53.9),(10.05,62.4),(10.11,60.7),(10.17,53),(10.21,53.9),(10.28,57.3),(10.33,54.7),(10.42,38.6),(10.47,75),(10.52,58),(10.56,57.3),(10.61,60.7),(10.65,53.9),(10.7,52),(10.74,50.5),(10.82,50),(10.88,56.4),(10.96,33.6)]

# Multiplet 6 - cross-correlation coefficient
f_sparse = [(0.47,1.0),(0.55,0.74),(0.57,0.795),(0.6,0.77),(0.62,0.8),(0.64,0.867),(0.64,0.848),(0.64,0.642),(0.67,0.611),(0.68,0.79),(0.7,0.81),(0.72,0.77),(0.75,0.826),(0.81,0.747),(0.83,0.713),
(1.04,0.82),(1.07,0.78),(1.1,0.74),(1.12,0.71),(1.14,0.82),(1.2,0.81),(1.22,0.79),(1.26,0.83),(1.28,0.73),(1.3,0.7),(1.33,0.8),(1.35,0.65),(1.37,0.68),(1.39,0.76),(1.41,0.8),(1.44,0.75),(1.46,0.67),(1.48,0.7),(1.52,0.77),(1.55,0.76),(1.58,0.82),(1.6,0.73),(1.5,0.8),(1.32,0.76),(1.25,0.775),(1.44,0.83),
(1.7,0.756),(1.75,0.727),(1.76,0.853),(1.78,0.8),(1.8,0.863)]
f_swarm1 = [(2.0,0.83),(2.02,0.78),(2.03,0.75),(2.05,0.82),(2.06,0.72),(2.08,0.8),(2.09,0.65),(2.1,0.77),(2.11,0.54),(2.12,0.81),(2.13,0.74),(2.14,0.79),(2.15,0.69),(2.16,0.76),(2.17,0.6),(2.18,0.8),(2.19,0.73),(2.2,0.78),(2.21,0.84),(2.22,0.75),(2.23,0.68),(2.24,0.79),(2.25,0.47),(2.26,0.77),(2.27,0.81),(2.28,0.72),(2.29,0.51),(2.3,0.8),(2.31,0.76),(2.32,0.7),(2.33,0.79),(2.34,0.74),(2.35,0.81),(2.36,0.49),(2.37,0.77),(2.38,0.8),(2.39,0.55),(2.4,0.78),(2.41,0.75),(2.42,0.8),(2.43,0.71),(2.44,0.79),(2.45,0.76),(2.46,0.32),(2.47,0.8),(2.48,0.65),(2.5,0.78),(2.52,0.62),(2.54,0.8),(2.56,0.77),(2.58,0.56),(2.6,0.79),(2.62,0.75),(2.64,0.64),(2.23,0.6),(2.15,0.54)]
f_swarm2 = [(2.9,0.8),(2.92,0.77),(2.93,0.82),(2.95,0.75),(2.96,0.79),(2.98,0.57),(3.0,0.81),(3.01,0.76),(3.02,0.78),(3.04,0.7),(3.05,0.8),(3.06,0.77),(3.08,0.67),(3.1,0.79),(3.11,0.75),(3.12,0.8),(3.13,0.72),(3.14,0.78),(3.15,0.63),(3.16,0.8),(3.17,0.76),(3.18,0.37),(3.19,0.78),(3.2,0.74),(3.21,0.8),(3.22,0.69),(3.23,0.77),(3.24,0.79),(3.25,0.75),(3.26,0.61),(3.27,0.78),(3.28,0.8),(3.29,0.73),(3.3,0.77),(3.31,0.66),(3.32,0.79),(3.33,0.75),(3.34,0.78),(3.35,0.71),(3.36,0.8),(3.37,0.76),(3.38,0.74),(3.39,0.78),(3.4,0.68),(3.41,0.77),(3.42,0.8),(3.43,0.75),(3.44,0.64),(3.45,0.78),(3.46,0.76),(3.47,0.79),(3.48,0.73),(3.5,0.77),(3.52,0.61),(3.53,0.79),(3.55,0.75),(3.56,0.78),(3.58,0.74),(3.6,0.8),(3.62,0.77),(3.63,0.72),(3.65,0.79),(3.66,0.76),(3.68,0.81),(3.7,0.78),(3.72,0.82),(3.74,0.79),(3.76,0.81),(3.78,0.8),(3.6,0.69),(3.35,0.6)]
f_swarm3 = [(4.02,0.77),(4.03,0.52),(4.04,0.79),(4.05,0.75),(4.06,0.78),(4.07,0.72),(4.08,0.8),(4.09,0.76),(4.1,0.66),(4.11,0.79),(4.12,0.74),(4.13,0.78),(4.14,0.62),(4.15,0.8),(4.16,0.76),(4.17,0.45),(4.18,0.78),(4.19,0.82),(4.2,0.75),(4.21,0.59),(4.22,0.79),(4.23,0.55),(4.24,0.77),(4.25,0.73),(4.26,0.78),(4.28,0.68),(4.3,0.76),(4.32,0.72),(4.35,0.74),(4.38,0.65),(4.42,0.7),(4.47,0.51),(4.28,0.78),(4.1,0.8)]
f_late = [(4.82,0.732),(4.97,0.71),(4.99,0.669),(5.29,0.8),(5.32,0.761),(5.37,0.727),(5.46,0.747),(5.48,0.616),(5.53,0.577),(5.54,0.795),(5.58,0.783),
(6.0,0.76),(6.03,0.75),(6.05,0.78),(6.08,0.77),(6.1,0.8),(6.13,0.79),(6.15,0.76),(6.18,0.78),(6.2,0.77),(6.22,0.74),(6.25,0.76),(6.28,0.73),(6.3,0.75),(6.32,0.69),(6.35,0.77),(6.38,0.75),(6.39,0.66),(6.41,0.698),(6.43,0.76),(6.46,0.64),(6.48,0.78),(6.5,0.819),(6.52,0.8),(6.55,0.77),(6.58,0.79),(6.6,0.78),(6.63,0.76),(6.66,0.79),(6.7,0.78),
(7.0,0.664),(7.02,0.78),(7.06,0.78),(7.1,0.775),(7.14,0.77),(7.18,0.76),(7.21,0.587),(7.22,0.75),(7.26,0.74),(7.3,0.72),(7.34,0.73),(7.38,0.71),(7.42,0.74),(7.46,0.73),(7.5,0.72),(7.54,0.689),(7.59,0.587),(7.62,0.73),
(8.01,0.54),(8.02,0.78),(8.04,0.76),(8.06,0.75),(8.08,0.72),(8.1,0.71),(8.14,0.77),(8.18,0.76),(8.2,0.74),(8.22,0.7),(8.26,0.78),(8.3,0.77),(8.34,0.65),(8.36,0.74),(8.39,0.587),(8.42,0.78),(8.44,0.652),(8.46,0.75),(8.5,0.73),(8.54,0.74),(8.58,0.71),(8.62,0.74),(8.64,0.69),(8.68,0.77),(8.72,0.72),(8.76,0.74),(8.8,0.68),(8.84,0.7),(8.87,0.626),(8.9,0.72),(8.94,0.71),(9.05,0.592),
(9.1,0.7),(9.15,0.66),(9.2,0.72),(9.25,0.7),(9.29,0.694),(9.34,0.5),(9.38,0.73),(9.42,0.71),(9.48,0.632),(9.5,0.69),(9.55,0.74),(9.6,0.71),(9.66,0.78),(9.7,0.72),(9.76,0.7),(9.81,0.529),(9.86,0.72),(9.9,0.7),(9.96,0.73),(10.0,0.69),(10.05,0.72),(10.1,0.74),(10.19,0.597),(10.22,0.73),(10.28,0.71),(10.34,0.72),(10.4,0.73),(10.47,0.393),(10.5,0.71),(10.56,0.64),(10.6,0.7),(10.7,0.664),(10.75,0.66),(10.85,0.64),(10.94,0.555)]

# ---------------- styling / layout ----------------
FONT = "Liberation Sans, Arial, Helvetica, sans-serif"
AX = "#6e6e6e"
DOT = "#202020"
GRID = "#a8a8a8"

ROWS = [dict(fh=274, top=61, bottom=66), dict(fh=277, top=70, bottom=66), dict(fh=274, top=39, bottom=96)]
COLS = [dict(fw=488, left=171, right=8, xend=21.5), dict(fw=482, left=141, right=5, xend=10.99)]


def style_axis(ax):
    ax.axis_line_color = AX
    ax.axis_line_width = 1
    ax.major_tick_line_color = AX
    ax.major_tick_in = 6
    ax.major_tick_out = 0
    ax.minor_tick_line_color = None
    ax.major_label_text_font = FONT
    ax.major_label_text_font_size = "24px"
    ax.major_label_text_color = "#2e2e2e"
    ax.axis_label_text_font = FONT
    ax.axis_label_text_font_style = "bold"
    ax.axis_label_text_font_size = "23.5px"
    ax.axis_label_text_color = "#222222"


def make_panel(c, r, y0, y1, yticks, ylabels, ylabel, ylabel_standoff, ytick_standoff,
               log=False, yminor=None, date_label=False):
    cc, rr = COLS[c], ROWS[r]
    p = figure(frame_width=cc["fw"], frame_height=rr["fh"],
               min_border_left=cc["left"], min_border_right=cc["right"],
               min_border_top=rr["top"], min_border_bottom=rr["bottom"],
               x_range=Range1d(0, cc["xend"]), y_range=Range1d(y0, y1),
               y_axis_type="log" if log else "linear",
               output_backend="svg", toolbar_location=None, tools="",
               background_fill_color="white", border_fill_color="white",
               outline_line_color=None)
    ticks = m5_ticks if c == 0 else m6_ticks
    labs = m5_tick_labels if c == 0 else m6_tick_labels
    xt = FixedTicker(ticks=ticks, minor_ticks=[])
    ax = p.xaxis[0]
    ax.ticker = xt
    ax.major_label_overrides = {t: (l if i % 2 == 0 else " ") for i, (t, l) in enumerate(zip(ticks, labs))}
    style_axis(ax)
    ax.major_label_standoff = 8
    ax2 = LinearAxis(ticker=FixedTicker(ticks=ticks[1::2], minor_ticks=[]),
                     major_label_overrides={t: l for t, l in zip(ticks[1::2], labs[1::2])})
    style_axis(ax2)
    ax2.axis_line_color = None
    ax2.major_tick_line_color = None
    ax2.major_label_standoff = -5
    if date_label:
        ax2.axis_label = "Date (2010)"
        ax2.axis_label_standoff = 4
    p.add_layout(ax2, "below")

    yt = FixedTicker(ticks=yticks, minor_ticks=yminor or [])
    ya = p.yaxis[0]
    ya.ticker = yt
    ya.major_label_overrides = {t: l for t, l in zip(yticks, ylabels)}
    style_axis(ya)
    ya.major_label_standoff = ytick_standoff
    ya.axis_label = ylabel
    ya.axis_label_standoff = ylabel_standoff
    if log:
        ya.minor_tick_line_color = AX
        ya.minor_tick_in = 3
        ya.minor_tick_out = 0

    p.xgrid.ticker = xt
    p.ygrid.ticker = yt
    for g in (p.xgrid, p.ygrid):
        g.grid_line_color = GRID
        g.grid_line_dash = "1 5"
        g.grid_line_width = 1
    if log:
        p.ygrid.minor_grid_line_color = GRID
        p.ygrid.minor_grid_line_dash = "1 5"
    return p


def xy(*lists):
    xs, ys = [], []
    for lst in lists:
        for a, b in lst:
            xs.append(a)
            ys.append(b)
    return xs, ys


def dots(p, *lists, size=3.8):
    xs, ys = xy(*lists)
    p.scatter(xs, ys, marker="circle", size=size, fill_color=DOT, line_color=DOT, line_width=0.3)


def gap_bar(p):
    p.add_layout(BoxAnnotation(left=m5_gap[0], right=m5_gap[1], fill_color="#c4c4c4", fill_alpha=1.0,
                               line_color="#8a8a8a", line_width=1, level="underlay"))


# panel a
pa = make_panel(0, 0, 0, 2000, [0, 500, 1000, 1500, 2000], ["0", "500", "1000", "1500", "2000"],
                "Recurrence interval (s)", 9, 8)
gap_bar(pa)
dots(pa, a_low, a_low_fill, a_double, a_mid, a_mid_fill, a_mid_spread, a_high, a_after, a_after_fill, a_after_spread)

# panel b
dec = [10, 100, 1000, 10000]
minor = [k * d for d in (10, 100, 1000) for k in range(2, 10)]
pb = make_panel(1, 0, 10, 10000, dec, ["10\u00b9", "10\u00b2", "10\u00b3", "10\u2074"],
                "Recurrence interval (s)", 14, 3, log=True, yminor=minor)
pb.segment(x0=b_bar_start, x1=b_bar_end, y0=[b_bar_level] * len(b_bar_start),
           y1=[b_bar_level] * len(b_bar_start), line_width=19, line_color="#222222", line_cap="butt")
dots(pb, b_sparse, b_swarm1, b_swarm2, b_swarm3, b_late, size=3.5)

# panel c
pc = make_panel(0, 1, 0, 600, [0, 200, 400, 600], ["0", "200", "400", "600"],
                "Pseudo\u2013energy", 22, 8)
pc.add_layout(Span(location=600, dimension="width", line_color=AX, line_width=1))
gap_bar(pc)
dots(pc, c_rise, c_decay, c_decay_spread, c_after, c_fill)

# panel d
pd_ = make_panel(1, 1, 0, 140, [0, 50, 100], ["0", "50", "100"],
                 "Pseudo\u2013energy", 6, 6)
pd_.outline_line_color = AX
dots(pd_, d_sparse, d_swarm1, d_swarm2, d_swarm3, d_late, size=3.5)

# panel e
cc_ticks = [0.2, 0.4, 0.6, 0.8, 1.0]
cc_labels = ["0.2", "0.4", "0.6", "0.8", "1"]
pe = make_panel(0, 2, 0.2, 1.0, cc_ticks, cc_labels, "X-correlation coefficient", 29, 8, date_label=True)
gap_bar(pe)
dots(pe, e_before, e_drop, e_after, e_fill)

# panel f
pf = make_panel(1, 2, 0.2, 1.0, cc_ticks, cc_labels, "X-correlation coefficient", 13, 6, date_label=True)
dots(pf, f_sparse, f_swarm1, f_swarm2, f_swarm3, f_late, size=3.5)

# transparent overlay (page-pixel coordinates) for column titles and panel letters;
# it starts in an empty first row/column so its frame begins at the page origin
OW, OH = 1290, 960
overlay = figure(width=OW, height=OH, x_range=Range1d(0, OW), y_range=Range1d(OH, 0),
                 x_axis_location=None, y_axis_location=None, min_border=0,
                 toolbar_location=None, tools="", output_backend="svg",
                 background_fill_color=None, border_fill_color=None, outline_line_color=None)
overlay.grid.visible = False
overlay.text(x=[412, 1052], y=[36, 36], text=["Multiplet 5", "Multiplet 6"],
             text_font=value(FONT), text_font_size="30px", text_font_style="bold",
             text_color="#222222", text_align="center", text_baseline="alphabetic")
overlay.text(x=[22, 730, 21, 730, 21, 726], y=[47, 60, 450, 470, 830, 845],
             text=["a", "b", "c", "d", "e", "f"],
             text_font=value(FONT), text_font_size="22px", text_font_style="bold",
             text_color="#222222", text_align="center", text_baseline="alphabetic")

layout = GridBox(children=[(pa, 1, 1), (pb, 1, 2), (pc, 2, 1), (pd_, 2, 2), (pe, 3, 1), (pf, 3, 2),
                           (overlay, 0, 0, 5, 4)])
open("out.html", "w").write(file_html(layout, INLINE, "Multiplets 5 and 6"))
